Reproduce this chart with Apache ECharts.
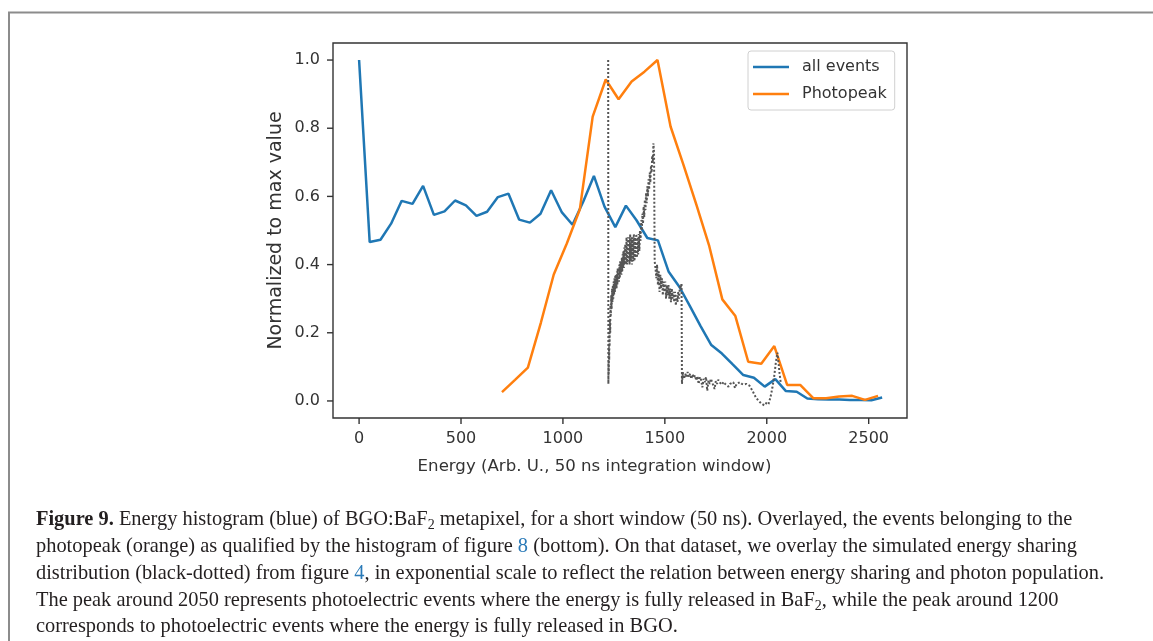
<!DOCTYPE html>
<html><head><meta charset="utf-8">
<script src="https://cdn.jsdelivr.net/npm/echarts@6/dist/echarts.min.js"></script>
<style>html,body{margin:0;padding:0;background:#fff;} #c{width:1153px;height:641px;}</style>
</head><body><div id="c"></div>
<script>
// ---- data ----
const allEventsX = [0, 52, 105, 157, 209, 262, 314, 367, 419, 471, 524, 576, 628, 681, 733, 785, 838, 890, 942, 995,
  1047, 1100, 1152, 1204, 1257, 1309, 1361, 1414, 1466, 1518, 1571, 1623, 1676, 1728, 1780, 1833, 1885, 1937, 1990, 2042,
  2094, 2147, 2199, 2251, 2304, 2356, 2408, 2461, 2513, 2566];
const allEventsY = [1.0, 0.466, 0.473, 0.52, 0.587, 0.578, 0.631, 0.546, 0.556, 0.588, 0.574, 0.543, 0.555, 0.598, 0.608, 0.532, 0.523, 0.549, 0.618, 0.553,
  0.517, 0.585, 0.660, 0.57, 0.510, 0.573, 0.53, 0.478, 0.471, 0.380, 0.335, 0.278, 0.219, 0.164, 0.139, 0.107, 0.076, 0.068, 0.042, 0.064,
  0.029, 0.027, 0.007, 0.005, 0.004, 0.004, 0.003, 0.003, 0.002, 0.010];
const photopeakX = [701, 765, 828, 892, 955, 1019, 1083, 1146, 1210, 1273, 1337, 1400, 1464, 1528, 1591, 1655, 1718, 1782, 1846, 1909,
  1973, 2037, 2100, 2164, 2228, 2291, 2355, 2419, 2482, 2546];
const photopeakY = [0.026, 0.062, 0.098, 0.23, 0.371, 0.462, 0.562, 0.834, 0.943, 0.885, 0.937, 0.966, 1.0, 0.805, 0.693, 0.575, 0.454, 0.298, 0.249, 0.115,
  0.109, 0.161, 0.047, 0.047, 0.008, 0.008, 0.013, 0.015, 0.003, 0.015];
// simulated energy sharing (black-dotted), [energy, value]
const simulated = [
  [1222, 1.0], [1223, 0.05],
  [1224, 0.12], [1225, 0.08], [1226, 0.16], [1227, 0.12], [1228, 0.20], [1229, 0.16], [1230, 0.24], [1232, 0.20],
  [1233, 0.28], [1235, 0.25], [1237, 0.31], [1239, 0.27],
  [1241, 0.33], [1243, 0.29], [1245, 0.34], [1247, 0.30], [1249, 0.35], [1251, 0.31], [1253, 0.36], [1255, 0.32],
  [1257, 0.37], [1259, 0.33], [1261, 0.37], [1263, 0.33], [1265, 0.38], [1267, 0.34], [1269, 0.39], [1271, 0.35],
  [1273, 0.39], [1275, 0.35], [1277, 0.40], [1279, 0.36], [1281, 0.41], [1283, 0.37], [1285, 0.41], [1287, 0.37],
  [1289, 0.42], [1291, 0.38], [1293, 0.43], [1295, 0.39], [1297, 0.44], [1299, 0.39], [1301, 0.45], [1303, 0.40],
  [1306, 0.46], [1309, 0.40], [1312, 0.48], [1315, 0.40], [1318, 0.48], [1321, 0.41], [1324, 0.48], [1327, 0.40],
  [1330, 0.49], [1333, 0.41], [1336, 0.48], [1339, 0.40], [1342, 0.48], [1345, 0.41], [1348, 0.49], [1351, 0.41],
  [1354, 0.48], [1357, 0.42], [1360, 0.49], [1363, 0.42], [1366, 0.48], [1369, 0.43], [1372, 0.49], [1375, 0.44],
  [1378, 0.50], [1381, 0.47], [1384, 0.53], [1387, 0.50], [1390, 0.55], [1393, 0.52], [1396, 0.57], [1399, 0.54],
  [1402, 0.59], [1405, 0.56], [1408, 0.61], [1411, 0.58], [1414, 0.63], [1417, 0.60], [1420, 0.65], [1423, 0.62],
  [1426, 0.67], [1429, 0.64], [1432, 0.69], [1435, 0.67], [1438, 0.72], [1441, 0.70], [1444, 0.756], [1447, 0.73],
  [1450, 0.41], [1454, 0.39], [1458, 0.36], [1462, 0.40], [1466, 0.34], [1470, 0.38], [1474, 0.32], [1478, 0.37],
  [1482, 0.33], [1486, 0.36], [1490, 0.31], [1494, 0.35], [1498, 0.32], [1502, 0.35], [1506, 0.30], [1510, 0.34],
  [1514, 0.31], [1518, 0.34], [1522, 0.30], [1526, 0.33], [1530, 0.29], [1534, 0.33], [1538, 0.30], [1542, 0.32],
  [1546, 0.29], [1550, 0.32], [1554, 0.28], [1558, 0.31], [1562, 0.29], [1566, 0.32], [1570, 0.30], [1574, 0.34],
  [1578, 0.33], [1582, 0.345], [1584, 0.05],
  [1588, 0.085], [1594, 0.065], [1600, 0.08], [1606, 0.07], [1612, 0.085], [1618, 0.07], [1624, 0.08], [1630, 0.065],
  [1636, 0.078], [1642, 0.068], [1648, 0.075], [1654, 0.06], [1660, 0.072], [1666, 0.05], [1672, 0.07], [1678, 0.062],
  [1684, 0.04], [1690, 0.065], [1696, 0.055], [1702, 0.07], [1708, 0.03], [1714, 0.06], [1720, 0.05], [1726, 0.065],
  [1732, 0.055], [1738, 0.06], [1744, 0.035], [1750, 0.058], [1756, 0.05], [1762, 0.062], [1768, 0.055], [1774, 0.06],
  [1780, 0.048], [1788, 0.056], [1796, 0.05], [1804, 0.055], [1812, 0.042], [1820, 0.05], [1828, 0.045], [1836, 0.055],
  [1844, 0.038], [1852, 0.05], [1860, 0.045], [1868, 0.055], [1878, 0.05], [1888, 0.048], [1900, 0.05], [1915, 0.045],
  [1930, 0.03], [1945, 0.012], [1960, 0.0], [1975, -0.008], [1988, -0.013], [1998, -0.006], [2008, -0.01], [2018, 0.01],
  [2028, 0.04], [2036, 0.07], [2044, 0.11], [2052, 0.142], [2058, 0.11], [2063, 0.08], [2068, 0.055]
];
const xTickValues = [0, 500, 1000, 1500, 2000, 2500];
const yTickValues = [0, 0.2, 0.4, 0.6, 0.8, 1.0];
const xRange = [-128, 2688];
const yRange = [-0.05, 1.05];
const xTitle = 'Energy (Arb. U., 50 ns integration window)';
const yTitle = 'Normalized to max value';
const legendNames = ['all events', 'Photopeak'];
const captionLines = [
  '{b|Figure 9.} Energy histogram (blue) of BGO:BaF{s|2} metapixel, for a short window (50 ns). Overlayed, the events belonging to the',
  'photopeak (orange) as qualified by the histogram of figure {l|8} (bottom). On that dataset, we overlay the simulated energy sharing',
  'distribution (black-dotted) from figure {l|4}, in exponential scale to reflect the relation between energy sharing and photon population.',
  'The peak around 2050 represents photoelectric events where the energy is fully released in BaF{s|2}, while the peak around 1200',
  'corresponds to photoelectric events where the energy is fully released in BGO.'
];

// ---- chart ----
const chart = echarts.init(document.getElementById('c'), null, { renderer: 'canvas' });
const sans = 'DejaVu Sans';
const serif = 'Liberation Serif';
const txt = '#333';
const zip = (xs, ys) => xs.map((x, i) => [x, ys[i]]);
const TICK = 6;

const option = {
  backgroundColor: '#fff',
  animation: false,
  grid: { left: 333, right: 246, top: 43, bottom: 223, containLabel: false,
    show: true, borderColor: '#333', borderWidth: 1.4, backgroundColor: 'transparent', z: 10 },
  xAxis: {
    type: 'value', min: xRange[0], max: xRange[1],
    axisLine: { show: false, onZero: false },
    axisTick: { show: false },
    axisLabel: { margin: 13, fontSize: 16, color: txt, fontFamily: sans, customValues: xTickValues, formatter: v => String(v) },
    splitLine: { show: false },
    name: xTitle, nameLocation: 'middle', nameGap: 40,
    nameTextStyle: { fontSize: 16.6, color: txt, fontFamily: sans, padding: [0, 51, 0, 0] }
  },
  yAxis: {
    type: 'value', min: yRange[0], max: yRange[1],
    axisLine: { show: false, onZero: false },
    axisTick: { show: false },
    axisLabel: { margin: 13, fontSize: 16, color: txt, fontFamily: sans, customValues: yTickValues, formatter: v => v.toFixed(1) },
    splitLine: { show: false },
    name: yTitle, nameLocation: 'middle', nameGap: 47,
    nameTextStyle: { fontSize: 19, color: txt, fontFamily: sans }
  },
  legend: {
    data: legendNames, orient: 'vertical', left: 748, top: 51, icon: 'rect',
    borderColor: '#d0d0d0', borderWidth: 1, borderRadius: 3, padding: [8, 8, 8, 5],
    itemWidth: 36, itemHeight: 2.5, itemGap: 11,
    textStyle: { fontSize: 16, color: txt, fontFamily: sans, padding: [0, 0, 0, 8] }
  },
  series: [
    { name: legendNames[0], type: 'line', data: zip(allEventsX, allEventsY), symbol: 'none', clip: false,
      lineStyle: { color: '#1f77b4', width: 2.5 }, itemStyle: { color: '#1f77b4' }, z: 3 },
    { name: legendNames[1], type: 'line', data: zip(photopeakX, photopeakY), symbol: 'none', clip: false,
      lineStyle: { color: '#ff7f0e', width: 2.5 }, itemStyle: { color: '#ff7f0e' }, z: 3 },
    { name: 'simulated', type: 'line', data: simulated, symbol: 'none', clip: false,
      lineStyle: { color: '#555', width: 2, type: 'dotted' }, z: 4 }
  ]
};
chart.setOption(option);

const cap = 20.4;
const rich = {
  b: { fontWeight: 'bold', fontSize: cap, fontFamily: serif, fill: '#231f20', lineHeight: 26 },
  s: { fontSize: 14, fontFamily: serif, fill: '#231f20', lineHeight: 14, verticalAlign: 'bottom' },
  l: { fontSize: cap, fontFamily: serif, fill: '#2a7ab8', lineHeight: 26 }
};
const graphics = [
  { type: 'rect', shape: { x: 9, y: 12.5, width: 1300, height: 800 }, style: { fill: 'none', stroke: '#8c8c8c', lineWidth: 2 }, silent: true }
];
// outward tick marks, positioned through the axis scales
xTickValues.forEach(v => {
  const p = chart.convertToPixel({ gridIndex: 0 }, [v, yRange[0]]);
  graphics.push({ type: 'rect', silent: true, z: 20,
    shape: { x: p[0] - 0.7, y: p[1], width: 1.4, height: TICK }, style: { fill: txt } });
});
yTickValues.forEach(v => {
  const p = chart.convertToPixel({ gridIndex: 0 }, [xRange[0], v]);
  graphics.push({ type: 'rect', silent: true, z: 20,
    shape: { x: p[0] - TICK, y: p[1] - 0.7, width: TICK, height: 1.4 }, style: { fill: txt } });
});
captionLines.forEach((line, i) => {
  graphics.push({ type: 'text', x: 36, y: 519.8 + i * 26.8, silent: true,
    style: { text: line, fontSize: cap, fontFamily: serif, fill: '#231f20', verticalAlign: 'middle', lineHeight: 26, rich } });
});
chart.setOption({ graphic: graphics });
</script></body></html>
